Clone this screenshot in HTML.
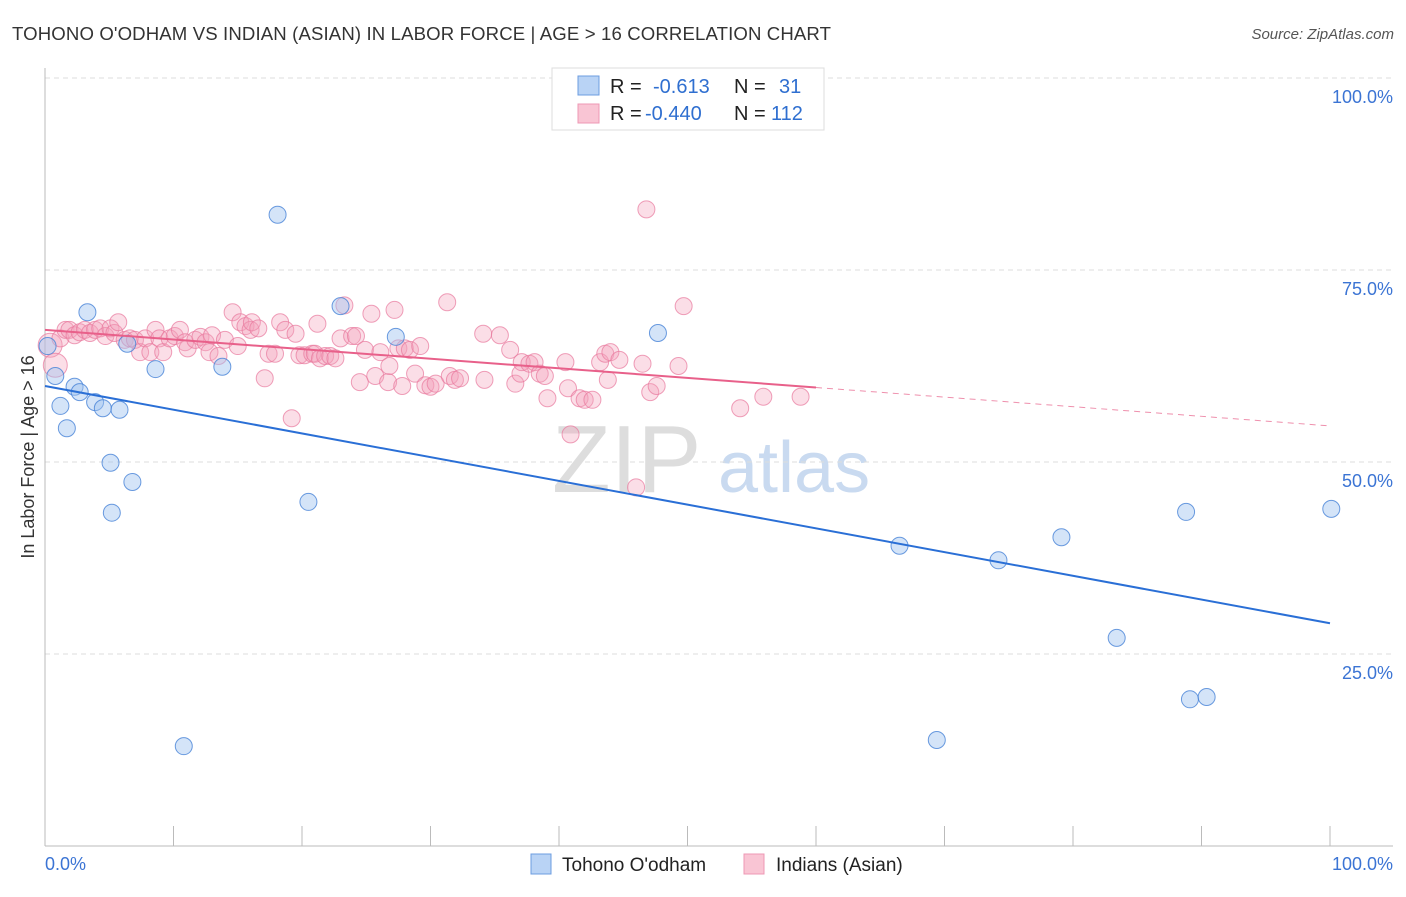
<!DOCTYPE html>
<html><head><meta charset="utf-8"><style>
body{margin:0;background:#fff;font-family:"Liberation Sans",sans-serif;}
svg text{font-family:"Liberation Sans",sans-serif;}
</style></head><body>
<svg id="chart" width="1406" height="892" xmlns="http://www.w3.org/2000/svg">
<text x="12" y="40" font-size="18.6" fill="#333" textLength="819">TOHONO O'ODHAM VS INDIAN (ASIAN) IN LABOR FORCE | AGE &gt; 16 CORRELATION CHART</text>
<text x="1394" y="39" font-size="15" fill="#555" font-style="italic" text-anchor="end">Source: ZipAtlas.com</text>
<g>
<text x="552" y="492" font-size="96" fill="#ddd" font-family="Liberation Serif,serif">ZIP</text>
<text x="718" y="492" font-size="72" fill="#c9daf0">atlas</text>
</g>
<g id="grid"></g>
<g id="axes"></g>
<g id="marks"></g>
<g>
<rect x="552" y="68" width="272" height="62" fill="#fff" stroke="#ddd"/>
<rect x="578" y="76" width="21" height="19" fill="#b9d3f5" stroke="#6c9de0"/>
<rect x="578" y="104" width="21" height="19" fill="#f9c5d4" stroke="#ee98b4"/>
<text x="610" y="93" font-size="20" fill="#222">R = <tspan fill="#2f6fd0" x="653">-0.613</tspan><tspan x="734" fill="#222">N =</tspan><tspan x="779" fill="#2f6fd0">31</tspan></text>
<text x="610" y="120" font-size="20" fill="#222">R = <tspan fill="#2f6fd0" x="645">-0.440</tspan><tspan x="734" fill="#222">N =</tspan><tspan x="771" fill="#2f6fd0">112</tspan></text>
</g>
<g>
<rect x="531" y="854" width="20" height="20" fill="#b9d3f5" stroke="#6c9de0"/>
<text x="562" y="871" font-size="19" fill="#222">Tohono O'odham</text>
<rect x="744" y="854" width="20" height="20" fill="#f9c5d4" stroke="#ee98b4"/>
<text x="776" y="871" font-size="19" fill="#222">Indians (Asian)</text>
</g>
</svg>
<script>
const yTicks=[25,50,75,100];
const yTickLabels=["25.0%","50.0%","75.0%","100.0%"];
const xTicks=[0,10,20,30,40,50,60,70,80,90,100];
const blueX=[0.2,0.8,1.2,1.7,2.3,2.7,3.3,3.9,4.5,5.1,5.2,5.8,6.4,6.8,8.6,10.8,13.8,18.1,20.5,23.0,27.3,47.7,66.5,69.4,74.2,79.1,83.4,88.8,89.1,90.4,100.1];
const blueY=[65.1,61.2,57.3,54.4,59.8,59.1,69.5,57.8,57.0,49.9,43.4,56.8,65.4,47.4,62.1,13.0,62.4,82.2,44.8,70.3,66.3,66.8,39.1,13.8,37.2,40.2,27.1,43.5,19.1,19.4,43.9];
const pinkX=[0.4,0.8,1.2,1.6,1.9,2.3,2.7,3.1,3.5,3.9,4.3,4.7,5.1,5.4,5.7,6.2,6.6,7.0,7.4,7.8,8.2,8.6,8.9,9.2,9.7,10.1,10.5,10.9,11.1,11.7,12.1,12.5,12.8,13.0,13.5,14.0,14.6,15.0,15.2,15.6,16.0,16.1,16.6,17.1,17.4,17.9,18.3,18.7,19.2,19.5,19.8,20.2,20.8,21.0,21.2,21.4,21.8,22.2,22.6,23.0,23.3,23.9,24.2,24.5,24.9,25.4,25.7,26.1,26.7,26.8,27.2,27.5,27.8,28.0,28.4,28.8,29.2,29.6,30.0,30.4,31.3,31.5,31.9,32.3,34.1,34.2,35.4,36.2,36.6,37.0,37.1,37.7,38.1,38.5,38.9,39.1,40.5,40.7,40.9,41.6,42.0,42.6,43.2,43.6,43.8,44.0,44.7,46.0,46.5,46.8,47.1,47.6,49.3,49.7,54.1,55.9,58.8];
const pinkY=[65.2,62.6,66.1,67.2,67.2,66.5,66.9,67.2,66.8,67.2,67.4,66.4,67.4,66.8,68.2,65.9,66.1,65.9,64.3,66.1,64.3,67.2,66.1,64.3,66.1,66.4,67.2,65.6,64.8,65.9,66.3,65.6,64.3,66.5,63.8,65.9,69.5,65.1,68.2,67.7,67.2,68.2,67.4,60.9,64.1,64.1,68.2,67.2,55.7,66.7,63.9,63.9,64.1,64.1,68.0,63.5,63.8,63.8,63.5,66.1,70.4,66.4,66.4,60.4,64.6,69.3,61.2,64.3,60.4,62.5,69.8,64.8,59.9,64.8,64.6,61.5,65.1,60.0,59.8,60.2,70.8,61.2,60.7,60.9,66.7,60.7,66.5,64.6,60.2,61.5,63.0,62.8,63.0,61.5,61.2,58.3,63.0,59.6,53.6,58.3,58.1,58.1,63.0,64.1,60.7,64.3,63.3,46.7,62.8,82.9,59.1,59.9,62.5,70.3,57.0,58.5,58.5];
const blueTrend=[59.9,29.0];
const pinkTrend=[67.2,54.7];
const pinkSolidEnd=60;

const NS="http://www.w3.org/2000/svg";
const X=v=>45+v*12.85, Y=v=>846-v*7.68;
function mk(parent,tag,attrs){const e=document.createElementNS(NS,tag);for(const k in attrs)e.setAttribute(k,attrs[k]);document.getElementById(parent).appendChild(e);return e;}
yTicks.forEach((t,i)=>{
 const g=mk('grid','line',{x1:45,x2:1393,y1:Y(t),y2:Y(t),stroke:'#ddd','stroke-dasharray':'5,4'});
 
 
 const l=mk('axes','text',{x:1393,y:Y(t)+25,'font-size':18,fill:'#3b74d4','text-anchor':'end'});
 l.textContent=yTickLabels[i];
 
 
});
let a=mk('axes','line',{x1:45,x2:45,y1:68,y2:846,stroke:'#bbb'});


a=mk('axes','line',{x1:45,x2:1393,y1:846,y2:846,stroke:'#bbb'});


xTicks.forEach(t=>{
 const e=mk('axes','line',{x1:X(t),x2:X(t),y1:826,y2:846,stroke:'#bbb'});
 
 
});
let t=mk('axes','text',{x:45,y:870,'font-size':18,fill:'#3b74d4'});t.textContent='0.0%';


t=mk('axes','text',{x:1393,y:870,'font-size':18,fill:'#3b74d4','text-anchor':'end'});t.textContent='100.0%';


t=mk('axes','text',{x:34,y:457,'font-size':18,fill:'#333','text-anchor':'middle',transform:'rotate(-90 34 457)'});t.textContent='In Labor Force | Age > 16';


pinkX.forEach((x,i)=>{
 const c=mk('marks','circle',{cx:X(x),cy:Y(pinkY[i]),r:i<2?12:8.5,fill:'rgba(244,160,186,0.35)',stroke:'rgba(232,120,156,0.7)','stroke-width':1});
 
 
});
blueX.forEach((x,i)=>{
 const c=mk('marks','circle',{cx:X(x),cy:Y(blueY[i]),r:8.5,fill:'rgba(160,195,240,0.45)',stroke:'rgba(70,130,215,0.8)','stroke-width':1});
 
 
});
const pAt=v=>pinkTrend[0]+(pinkTrend[1]-pinkTrend[0])*v/100;
let ln=mk('marks','line',{x1:X(0),y1:Y(pinkTrend[0]),x2:X(pinkSolidEnd),y2:Y(pAt(pinkSolidEnd)),stroke:'#e8608a','stroke-width':2});


ln=mk('marks','line',{x1:X(pinkSolidEnd),y1:Y(pAt(pinkSolidEnd)),x2:X(100),y2:Y(pinkTrend[1]),stroke:'#e8608a','stroke-width':1,'stroke-dasharray':'6,5',opacity:0.7});


ln=mk('marks','line',{x1:X(0),y1:Y(blueTrend[0]),x2:X(100),y2:Y(blueTrend[1]),stroke:'#2a6fd6','stroke-width':2});


</script>
</body></html>
